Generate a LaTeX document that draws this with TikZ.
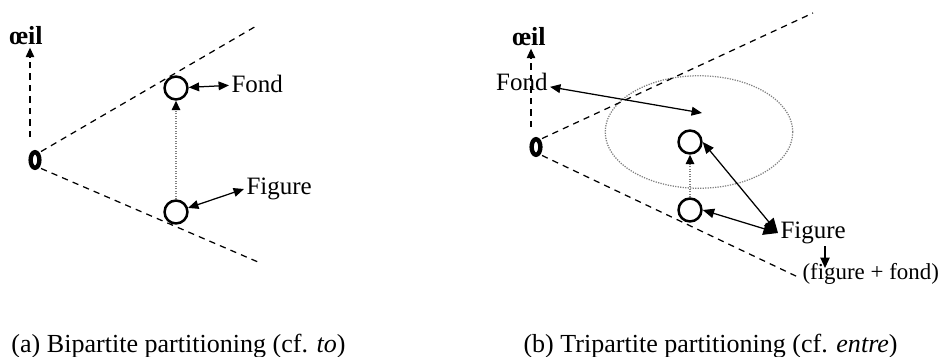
\documentclass[tikz,border=0pt]{standalone}
\usepackage{fontspec}
\setmainfont{Liberation Serif}
\usetikzlibrary{arrows.meta}
\usetikzlibrary{shapes.geometric}

\begin{document}
\begin{tikzpicture}[x=0.48pt,y=-0.48pt,font=\fontsize{12}{14}\selectfont,
	eye/.style={draw,ellipse,line width=2.1pt,minimum width=4.2pt,minimum height=7.5pt,inner sep=0pt,outer sep=2pt},
	spot/.style={draw,circle,line width=1.2pt,minimum size=11pt,inner sep=0pt},
	lab/.style={inner sep=1pt},
	sight/.style={dash pattern=on 3pt off 2.5pt,line width=0.6pt},
	rise/.style={draw=gray,dash pattern=on 0.6pt off 0.6pt,line width=0.8pt,-{Triangle[black,length=4.5pt,width=4pt]}},
	link/.style={line width=0.6pt,{Triangle[length=5pt,width=4.2pt]}-{Triangle[length=5pt,width=4.2pt]}},
	biglink/.style={line width=0.6pt,{Triangle[length=5.5pt,width=4.5pt]}-{Triangle[length=7pt,width=6pt]}}]
	\useasboundingbox (0,0) rectangle (939,356);

	\node[eye] (eyeA) at (35,160) {};
	\node[lab,font=\fontsize{12.5}{14}\selectfont\bfseries] (oeilA) at (26,36) {œil};
	\coordinate (baseA) at (30,137);
	\coordinate (upA) at (258,25);
	\coordinate (lowA) at (258,262);
	\node[spot] (fondA) at (176,88) {};
	\node[spot] (figA) at (176,212) {};
	\node[lab,anchor=west] (fondlabA) at (229,84) {Fond};
	\node[lab,anchor=west] (figlabA) at (244,189) {Figure};
	\draw[sight] (eyeA.north east) -- (upA);
	\draw[sight] (eyeA.south east) -- (lowA);
	\draw[sight,-{Triangle[length=4.5pt,width=4pt]}] (baseA) -- (baseA |- oeilA.south);
	\draw[rise] (figA) -- (fondA);
	\draw[link] (fondA) -- (fondlabA);
	\draw[link] (figA) -- (figlabA.west);

	\node[eye] (eyeB) at (536,147) {};
	\node[lab,font=\fontsize{12.5}{14}\selectfont\bfseries] (oeilB) at (529,37) {œil};
	\coordinate (baseB) at (531,127);
	\coordinate (upB) at (813,13);
	\coordinate (lowB) at (800,278);
	\node[draw=gray,dash pattern=on 0.6pt off 0.6pt,line width=0.6pt,ellipse,minimum width=90pt,minimum height=54pt] (zoneB) at (699,132) {};
	\node[spot] (fondB) at (690,142) {};
	\node[spot] (figB) at (690,210) {};
	\node[lab,anchor=east] (fondlabB) at (550,82) {Fond};
	\coordinate (fondtipB) at (702,113);
	\node[lab,anchor=west] (figlabB) at (778,233) {Figure};
	\node[lab,anchor=north west,font=\fontsize{11}{13}\selectfont] (mixB) at (800,261) {(figure + fond)};
	\coordinate (downB) at (825,268);
	\draw[sight] (eyeB.north east) -- (upB);
	\draw[sight] (eyeB.south east) -- (lowB);
	\draw[sight,-{Triangle[length=4.5pt,width=4pt]}] (baseB) -- (baseB |- oeilB.south);
	\draw[rise] (figB) -- (fondB);
	\draw[link] (fondlabB) -- (fondtipB);
	\draw[biglink] (fondB.east) -- (figlabB.west);
	\draw[biglink] (figB.east) -- (figlabB.west);
	\draw[line width=0.6pt,-{Triangle[length=5pt,width=4.5pt]}] (figlabB.south -| downB) -- (downB);

	\node[lab,anchor=base west,font=\fontsize{12.5}{15}\selectfont] (capA) at (9,352) {(a) Bipartite partitioning (cf. \textit{to})};
	\node[lab,anchor=base west,font=\fontsize{12.5}{15}\selectfont] (capB) at (521,352) {(b) Tripartite partitioning (cf. \textit{entre})};
\end{tikzpicture}
\end{document}
